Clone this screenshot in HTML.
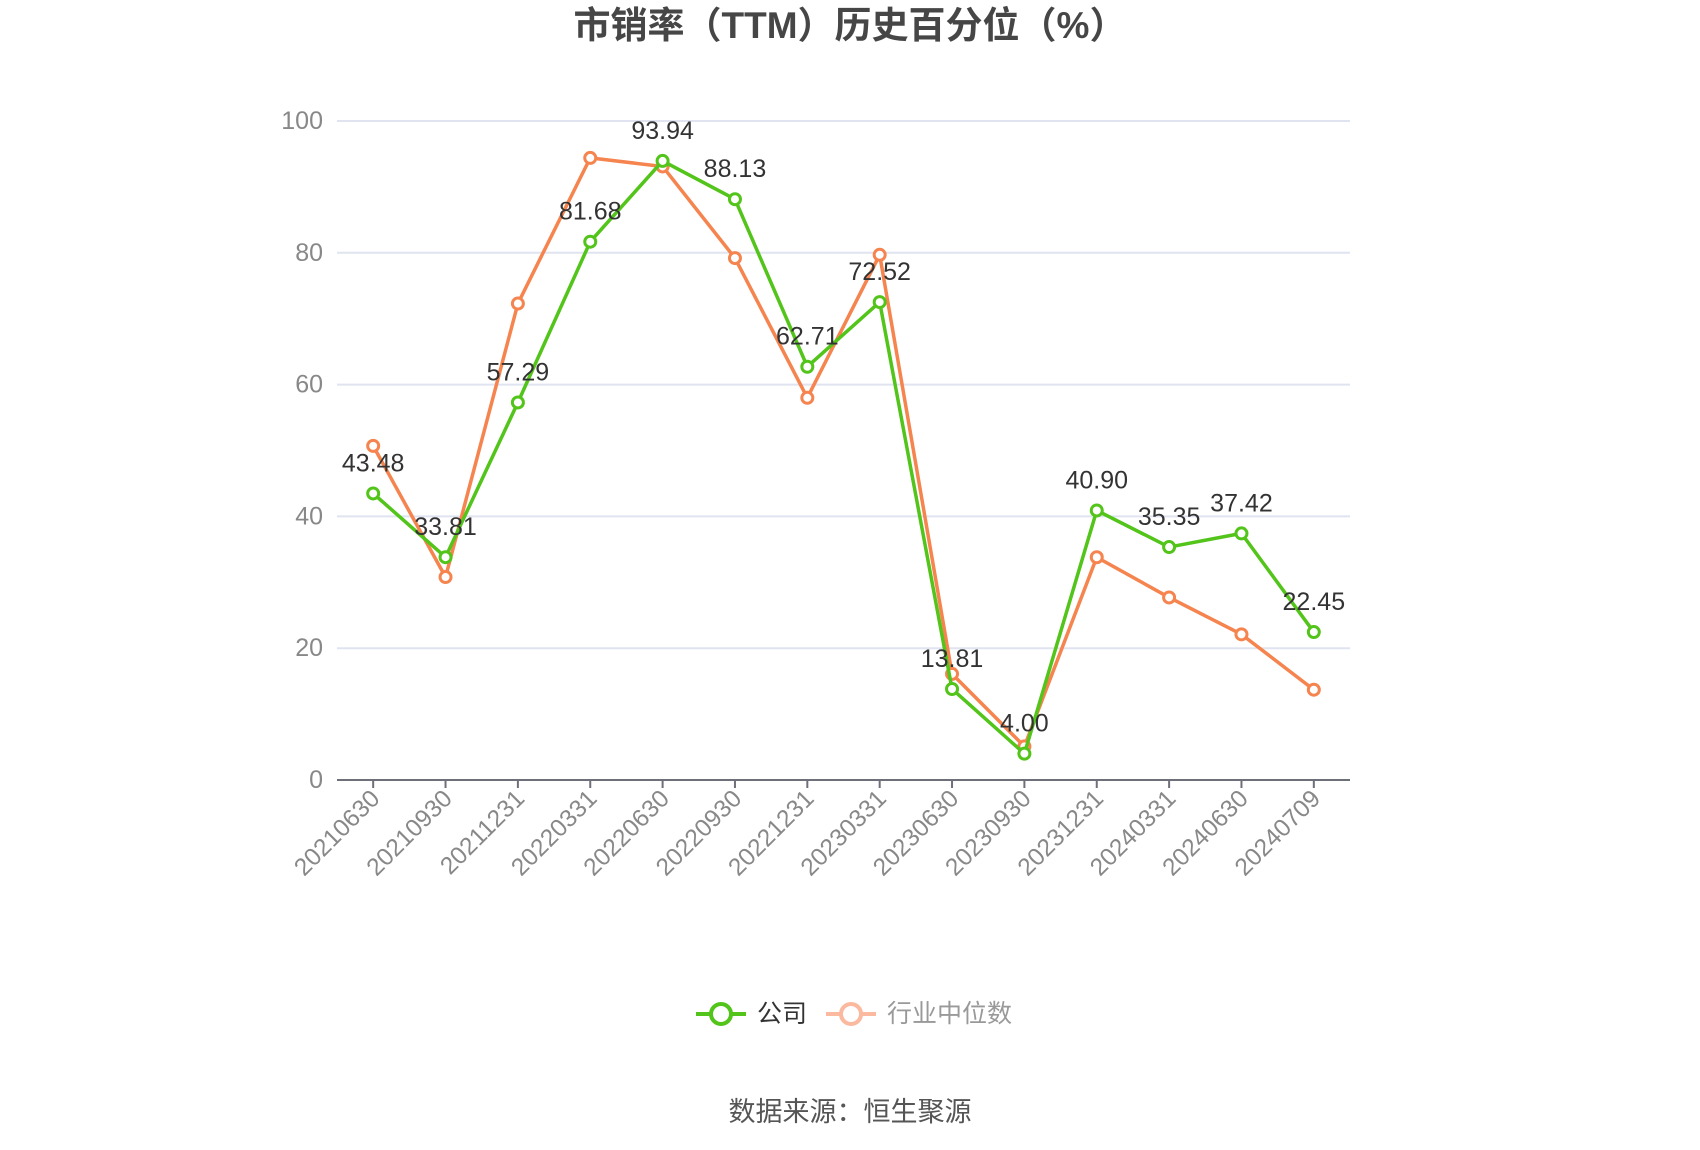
<!DOCTYPE html>
<html><head><meta charset="utf-8">
<style>
html,body{margin:0;padding:0;background:#fff;}
svg{display:block;font-family:"Liberation Sans","Noto Sans CJK SC",sans-serif;}
</style></head>
<body>
<svg id="chart" width="1700" height="1150" viewBox="0 0 1700 1150">
<text x="850" y="38" text-anchor="middle" font-size="37" font-weight="bold" fill="#464646">市销率（TTM）历史百分位（%）</text>
<g id="grid"></g>
<g id="xaxis"></g>
<g id="series"></g>
<g>
 <g>
  <line x1="696" y1="1014" x2="746" y2="1014" stroke="#52c41a" stroke-width="4"/>
  <circle cx="721" cy="1014" r="10" fill="#fff" stroke="#52c41a" stroke-width="4"/>
  <text x="757" y="1022" font-size="25" fill="#333">公司</text>
 </g>
 <g>
  <line x1="826" y1="1014" x2="876" y2="1014" stroke="#fbb9a0" stroke-width="4"/>
  <circle cx="851" cy="1014" r="10" fill="#fff" stroke="#fbb9a0" stroke-width="4"/>
  <text x="887" y="1022" font-size="25" fill="#999">行业中位数</text>
 </g>
</g>
<text x="850" y="1121" text-anchor="middle" font-size="27" fill="#555">数据来源：恒生聚源</text>
</svg>
<script>
const categories=["20210630","20210930","20211231","20220331","20220630","20220930","20221231","20230331","20230630","20230930","20231231","20240331","20240630","20240709"];
const companyValues=[43.48,33.81,57.29,81.68,93.94,88.13,62.71,72.52,13.81,4.00,40.90,35.35,37.42,22.45];
const industryValues=[50.7,30.8,72.3,94.4,93.1,79.2,58.0,79.7,16.1,5.1,33.8,27.7,22.1,13.7];
const yTicks=[0,20,40,60,80,100];

const NS="http://www.w3.org/2000/svg";
const L=337,R=1350,T=121,B=780;
const step=(R-L)/categories.length;
function xs(i){return L+step*(i+0.5);}
function ys(v){return B-(v/100)*(B-T);}
function mk(tag,attrs,parent){const e=document.createElementNS(NS,tag);for(const k in attrs)e.setAttribute(k,attrs[k]);parent.appendChild(e);return e;}
const grid=document.getElementById('grid'),xa=document.getElementById('xaxis'),ser=document.getElementById('series');
yTicks.forEach(t=>{
  if(t>0){const g=mk('line',{x1:L,x2:R,y1:ys(t),y2:ys(t),stroke:'#e0e4f0','stroke-width':2},grid);
  
  }
  const tx=mk('text',{x:L-14,y:ys(t)+8,'text-anchor':'end','font-size':25,fill:'#888'},grid);
  tx.textContent=t;
  
  
});
const ax=mk('line',{x1:L,x2:R,y1:B,y2:B,stroke:'#6e7079','stroke-width':2},xa);


categories.forEach((c,i)=>{
  const x=xs(i);
  const tk=mk('line',{x1:x,x2:x,y1:B,y2:B+8,stroke:'#6e7079','stroke-width':2},xa);
  
  
  const t=mk('text',{x:x+8,y:B+20,'text-anchor':'end','font-size':24.5,fill:'#888',transform:`rotate(-45 ${x+8} ${B+20})`},xa);
  t.textContent=c;
  
  
});
function drawLine(vals,color,name,labels){
  const p=vals.map((v,i)=>xs(i)+','+ys(v)).join(' ');
  const pl=mk('polyline',{points:p,fill:'none',stroke:color,'stroke-width':3.5,'stroke-linejoin':'round'},ser);
  
  
  vals.forEach((v,i)=>{
    const c=mk('circle',{cx:xs(i),cy:ys(v),r:5.5,fill:'#fff',stroke:color,'stroke-width':3},ser);
    
    
    if(labels){
      const t=mk('text',{x:xs(i),y:ys(v)-22,'text-anchor':'middle','font-size':25,fill:'#333'},ser);
      t.textContent=v.toFixed(2);
      
      
    }
  });
}
drawLine(industryValues,'#f5844f','industry-median',false);
drawLine(companyValues,'#52c41a','company',true);
</script>
</body></html>
